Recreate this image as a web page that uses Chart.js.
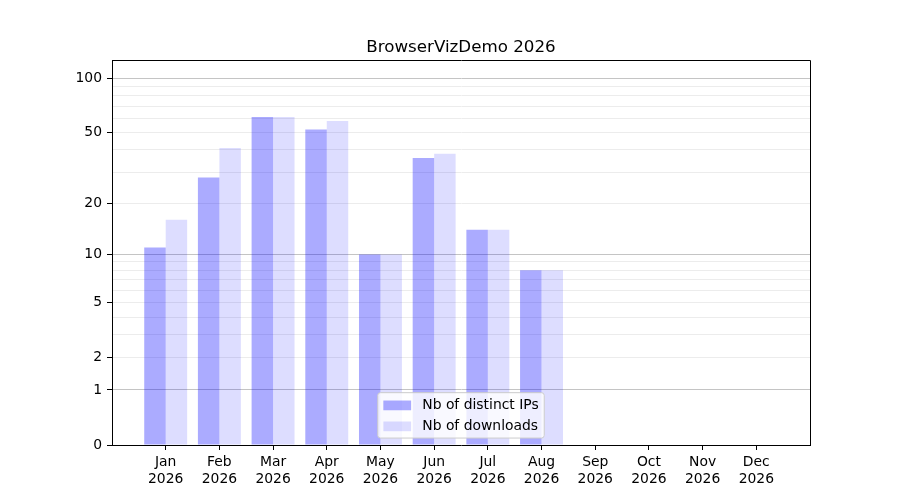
<!DOCTYPE html>
<html>
<head>
<meta charset="utf-8">
<title>BrowserVizDemo 2026</title>
<script src="https://cdn.jsdelivr.net/npm/chart.js@4.4.1/dist/chart.umd.min.js"></script>
<style>
  html, body { margin: 0; padding: 0; background: #fff; }
  #wrap { width: 900px; height: 500px; }
</style>
</head>
<body>
<div id="wrap"><canvas id="chart" width="900" height="500"></canvas></div>
<script>
// data
const months = ["Jan", "Feb", "Mar", "Apr", "May", "Jun", "Jul", "Aug", "Sep", "Oct", "Nov", "Dec"];
const year = "2026";
const chartTitle = "BrowserVizDemo " + year;
const distinctIps = [11, 28, 61, 52, 10, 36, 14, 8, 0, 0, 0, 0];
const downloads = [16, 41, 61, 58, 10, 38, 14, 8, 0, 0, 0, 0];
const yLabelTicks = [0, 1, 2, 5, 10, 20, 50, 100];
const yMajorGrid = [1, 10, 100];
const yMinorGrid = [3, 4, 6, 7, 8, 9, 30, 40, 60, 70, 80, 90];
const yMax = 126;

const FS = 13.9; // matplotlib 10pt at 100 dpi

// y axis: log10(1 + v)
class Log1pScale extends Chart.Scale {
  static id = "log1p";
  static defaults = {};

  determineDataLimits() {
    this.min = this.options.min ?? 0;
    this.max = this.options.max ?? 100;
  }

  buildTicks() {
    const values = [...yLabelTicks, ...yMinorGrid].sort((a, b) => a - b);
    return values.map((v) => ({ value: v }));
  }

  configure() {
    super.configure();
    this._startValue = Math.log10(1 + this.min);
    this._valueRange = Math.log10(1 + this.max) - this._startValue;
  }

  getPixelForValue(value) {
    if (value === undefined || value === null) value = this.min;
    return this.getPixelForDecimal(
      (Math.log10(1 + value) - this._startValue) / this._valueRange
    );
  }

  getValueForPixel(pixel) {
    const d = this.getDecimalForPixel(pixel);
    return Math.pow(10, this._startValue + d * this._valueRange) - 1;
  }
}
Chart.register(Log1pScale);

// title centred over the plot, top / right spines
const frame = {
  id: "frame",
  afterDatasetsDraw(chart) {
    const { ctx, chartArea: a } = chart;
    ctx.save();
    ctx.strokeStyle = "#000";
    ctx.lineWidth = 1;
    ctx.beginPath();
    ctx.moveTo(Math.round(a.left) + 0.5, Math.round(a.top) + 0.5);
    ctx.lineTo(Math.round(a.right) + 0.5, Math.round(a.top) + 0.5);
    ctx.lineTo(Math.round(a.right) + 0.5, Math.round(a.bottom) + 0.5);
    ctx.stroke();

    ctx.font = "16.7px 'DejaVu Sans', sans-serif";
    ctx.fillStyle = "#000";
    ctx.textAlign = "center";
    ctx.textBaseline = "alphabetic";
    ctx.fillText(chartTitle, (a.left + a.right) / 2, a.top - 8);
    ctx.restore();
  },
};

// legend inside the plot, lower center
const insideLegend = {
  id: "insideLegend",
  afterDraw(chart) {
    const { ctx, chartArea: a } = chart;
    const sets = chart.data.datasets;
    const pad = 0.4 * FS;
    const handleW = 2.0 * FS;
    const handleH = 0.7 * FS;
    const textPad = 0.8 * FS;
    const rowH = 13.3;
    const rowGap = 0.55 * FS;

    ctx.save();
    ctx.font = FS + "px 'DejaVu Sans', sans-serif";
    const textW = Math.max(...sets.map((s) => ctx.measureText(s.label).width));
    const w = pad + handleW + textPad + textW + pad;
    const h = pad * 2 + rowH * sets.length + rowGap * (sets.length - 1);
    const x = (a.left + a.right) / 2 - w / 2;
    const y = a.bottom - 0.5 * FS - h;

    ctx.beginPath();
    ctx.roundRect(x, y, w, h, 0.2 * FS);
    ctx.fillStyle = "rgba(255,255,255,0.8)";
    ctx.fill();
    ctx.strokeStyle = "#cccccc";
    ctx.lineWidth = 1;
    ctx.stroke();

    sets.forEach((s, i) => {
      const cy = y + pad + rowH / 2 + i * (rowH + rowGap) + 0.5;
      ctx.fillStyle = s.backgroundColor;
      ctx.fillRect(x + pad, cy - handleH / 2, handleW, handleH);
      ctx.fillStyle = "#000";
      ctx.textBaseline = "middle";
      ctx.textAlign = "left";
      ctx.fillText(s.label, x + pad + handleW + textPad, cy);
    });
    ctx.restore();
  },
};

Chart.defaults.font.family = "'DejaVu Sans', sans-serif";
Chart.defaults.font.size = FS;
Chart.defaults.color = "#000";

new Chart(document.getElementById("chart"), {
  type: "bar",
  data: {
    labels: months.map((m, i) => i),
    datasets: [
      {
        label: "Nb of distinct IPs",
        data: distinctIps,
        backgroundColor: "rgba(0, 0, 255, 0.33)",
        borderWidth: 0,
        inflateAmount: 0,
      },
      {
        label: "Nb of downloads",
        data: downloads,
        backgroundColor: "rgba(0, 0, 255, 0.135)",
        borderWidth: 0,
        inflateAmount: 0,
      },
    ],
  },
  options: {
    responsive: false,
    animation: false,
    layout: { padding: { left: 0, right: 90, top: 60, bottom: 0 } },
    datasets: {
      bar: { categoryPercentage: 0.8, barPercentage: 1.0 },
    },
    plugins: {
      legend: { display: false },
      tooltip: { enabled: false },
      title: { display: false },
    },
    scales: {
      x: {
        type: "linear",
        min: -1,
        max: 12,
        offset: false,
        afterFit: (scale) => {
          scale.height = 55;
        },
        border: { color: "#000", width: 1 },
        grid: {
          offset: false,
          drawOnChartArea: false,
          drawTicks: true,
          tickLength: 5,
          tickColor: (c) =>
            c.tick && c.tick.value >= 0 && c.tick.value < months.length
              ? "#000"
              : "rgba(0,0,0,0)",
        },
        ticks: {
          stepSize: 1,
          autoSkip: false,
          maxRotation: 0,
          padding: 4,
          callback: (v) =>
            v >= 0 && v < months.length ? [months[v], year] : "",
        },
      },
      y: {
        type: "log1p",
        min: 0,
        max: yMax,
        afterFit: (scale) => {
          scale.width = 112;
        },
        border: { color: "#000", width: 1 },
        grid: {
          tickLength: 5,
          lineWidth: 1,
          color: (c) => {
            const v = c.tick ? c.tick.value : null;
            if (v === 0) return "rgba(0,0,0,0)";
            if (yMajorGrid.includes(v)) return "#c4c4c4";
            return "#ececec";
          },
          tickColor: (c) =>
            c.tick && yLabelTicks.includes(c.tick.value)
              ? "#000"
              : "rgba(0,0,0,0)",
        },
        ticks: {
          autoSkip: false,
          padding: 5,
          callback: (v) => (yLabelTicks.includes(v) ? String(v) : ""),
        },
      },
    },
  },
  plugins: [frame, insideLegend],
});
</script>
</body>
</html>
